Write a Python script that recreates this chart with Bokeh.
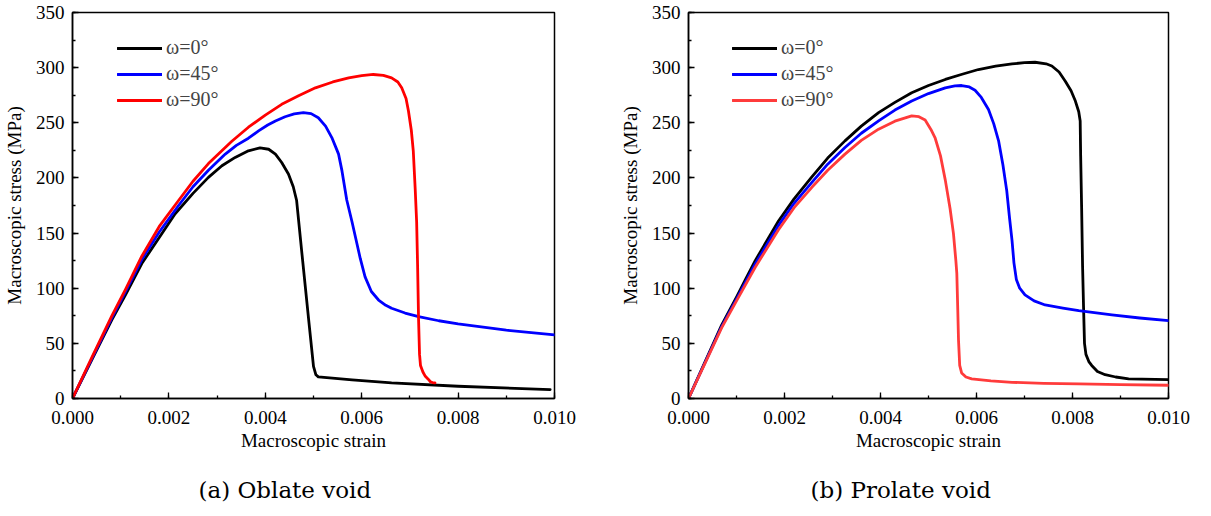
from bokeh.plotting import figure
from bokeh.models import Range1d, Legend, LegendItem, Title, NumeralTickFormatter, FixedTicker
from bokeh.layouts import row
from bokeh.embed import file_html
from bokeh.resources import INLINE

# ---------------- data (strain in units of 1e-3, stress in MPa) ----------------
# (a) Oblate void
a_w0_strain = [0, 0.4, 0.816, 1.1, 1.438, 1.8, 2.13, 2.5, 2.82, 3.1, 3.375, 3.65, 3.89, 4.07, 4.21, 4.34, 4.48, 4.58, 4.65, 4.76, 4.90, 5.0, 5.05, 5.10, 5.8, 6.62, 8.0, 9.91]
a_w0_stress = [0, 35, 71.3, 94, 122.4, 146, 167.5, 186, 200.5, 211, 218.6, 224.6, 227.2, 226, 221.6, 214, 203.6, 192, 179.5, 131.4, 71.3, 29.2, 21.5, 19.6, 16.8, 14.1, 11.1, 8.1]

a_w45_strain = [0, 0.4, 0.816, 1.1, 1.438, 1.8, 2.2, 2.5, 2.82, 3.17, 3.4, 3.65, 3.86, 4.05, 4.21, 4.41, 4.6, 4.79, 4.95, 5.10, 5.25, 5.38, 5.47, 5.52, 5.59, 5.69, 5.80, 5.87, 5.97, 6.07, 6.2, 6.35, 6.5, 6.62, 6.9, 7.18, 7.6, 8.0, 9.0, 10.0]
a_w45_stress = [0, 36, 73, 97, 126, 151, 175, 192, 207, 221.6, 229.5, 236, 242.6, 248, 251.7, 255.5, 258, 259.2, 258.3, 254.6, 247, 236.6, 227, 221.6, 206.6, 180, 160, 146.4, 127, 110.3, 97, 89.3, 84.5, 81.8, 77.5, 74.2, 70.5, 67.6, 62, 57.7]

a_w90_strain = [0, 0.4, 0.816, 1.1, 1.438, 1.8, 2.2, 2.5, 2.82, 3.3, 3.65, 4.0, 4.34, 4.69, 5.04, 5.4, 5.73, 6.0, 6.24, 6.45, 6.62, 6.75, 6.83, 6.92, 6.97, 7.03, 7.07, 7.11, 7.14, 7.16, 7.18, 7.20, 7.22, 7.27, 7.32, 7.38, 7.43, 7.47, 7.52]
a_w90_stress = [0, 37, 75, 99, 129, 156, 179.5, 197, 213, 233, 246, 257, 266.7, 274.5, 281.7, 287, 290.7, 292.8, 293.8, 293, 290.7, 287, 281.7, 272, 260.7, 243, 224.6, 190, 160, 120, 71.3, 40, 30, 24, 20.1, 17.5, 15, 14.5, 14.1]

# (b) Prolate void
b_w0_strain = [0, 0.69, 1.0, 1.18, 1.39, 1.875, 2.2, 2.57, 2.9, 3.26, 3.6, 3.96, 4.3, 4.65, 5.0, 5.35, 5.7, 6.04, 6.4, 6.74, 7.0, 7.22, 7.45, 7.57, 7.72, 7.85, 7.97, 8.06, 8.13, 8.16, 8.17, 8.19, 8.21, 8.23, 8.25, 8.28, 8.34, 8.40, 8.52, 8.68, 8.9, 9.17, 10.0]
b_w0_stress = [0, 66.5, 92, 107.3, 125, 161, 181, 201, 218, 233.6, 247, 259.2, 268.5, 277.2, 283.8, 289.3, 294, 298.3, 301.3, 303.4, 304.5, 304.9, 303.5, 301.5, 296, 287.7, 279, 269.7, 260, 251.7, 220, 173.5, 120, 83.3, 50, 40, 33.5, 30, 24.5, 21.6, 19.5, 17.8, 17.1]

b_w45_strain = [0, 0.69, 1.0, 1.39, 1.875, 2.2, 2.57, 2.9, 3.26, 3.6, 3.96, 4.3, 4.65, 5.0, 5.35, 5.55, 5.69, 5.85, 5.97, 6.1, 6.25, 6.36, 6.46, 6.55, 6.63, 6.69, 6.74, 6.78, 6.83, 6.9, 7.01, 7.2, 7.43, 7.8, 8.13, 8.82, 9.4, 10.0]
b_w45_stress = [0, 65.2, 90, 122, 157, 177, 196, 212.5, 227.6, 240.5, 251.7, 261.5, 269.7, 276.5, 281.7, 283.5, 283.8, 282.5, 279.5, 273, 262, 249, 233.6, 212, 188.5, 163, 143.4, 123, 108, 100, 94, 88.5, 84.8, 82, 79.6, 75.8, 73, 70.6]

b_w90_strain = [0, 0.69, 1.0, 1.39, 1.875, 2.2, 2.57, 2.9, 3.26, 3.6, 3.96, 4.3, 4.65, 4.80, 4.93, 5.05, 5.14, 5.25, 5.35, 5.45, 5.52, 5.57, 5.59, 5.61, 5.625, 5.65, 5.69, 5.78, 5.90, 6.3, 6.74, 7.4, 8.13, 9.0, 10.0]
b_w90_stress = [0, 64, 88.5, 119, 153, 173, 191.5, 207, 221.6, 234, 244.2, 251.5, 256.2, 255.5, 252.5, 244, 236, 220, 198, 172, 149.5, 125, 113.4, 80, 53.2, 30, 23.2, 19.5, 17.8, 16, 14.7, 13.8, 13.2, 12.6, 12]

series_labels = ["ω=0°", "ω=45°", "ω=90°"]
x_ticks = [0.000, 0.002, 0.004, 0.006, 0.008, 0.010]
y_ticks = [0, 50, 100, 150, 200, 250, 300, 350]

SERIF = "Liberation Serif"


def make_panel(data, colors, caption, left_border, frame_w, right_border, legend_x, cap_offset):
    p = figure(
        output_backend="svg", toolbar_location=None,
        frame_width=frame_w, frame_height=386,
        min_border_left=left_border, min_border_right=right_border,
        min_border_top=12, min_border_bottom=100,
        x_range=Range1d(0, 0.010), y_range=Range1d(0, 350),
        background_fill_color="white", border_fill_color="white",
    )
    p.xgrid.visible = False
    p.ygrid.visible = False
    p.outline_line_color = "black"
    p.outline_line_width = 1.5

    items = []
    for (sx, sy), col, lab in zip(data, colors, series_labels):
        r = p.line([v * 1e-3 for v in sx], sy, line_color=col, line_width=2.8,
                   line_join="round", line_cap="round")
        items.append(LegendItem(label=lab, renderers=[r]))

    for ax in (p.xaxis[0], p.yaxis[0]):
        ax.axis_line_width = 1.5
        ax.axis_line_color = "black"
        ax.major_tick_in = 6
        ax.major_tick_out = 0
        ax.minor_tick_in = 3
        ax.minor_tick_out = 0
        ax.major_tick_line_width = 1.3
        ax.minor_tick_line_width = 1.3
        ax.major_label_text_font = SERIF
        ax.major_label_text_font_size = "19px"
        ax.major_label_text_color = "black"
        ax.axis_label_text_font = SERIF
        ax.axis_label_text_font_size = "19px"
        ax.axis_label_text_font_style = "normal"
        ax.axis_label_text_color = "black"

    p.xaxis.ticker = FixedTicker(ticks=x_ticks, minor_ticks=[i * 0.001 for i in range(11)])
    p.yaxis.ticker = FixedTicker(ticks=y_ticks, minor_ticks=[i * 25 for i in range(15)])
    p.xaxis.formatter = NumeralTickFormatter(format="0.000")
    p.xaxis.axis_label = "Macroscopic strain"
    p.yaxis.axis_label = "Macroscopic stress (MPa)"
    p.xaxis.major_label_standoff = 12
    p.xaxis.axis_label_standoff = 3
    p.yaxis.major_label_standoff = 8
    p.yaxis.axis_label_standoff = 8

    leg = Legend(items=items, location=(legend_x, 287), border_line_color=None,
                 background_fill_alpha=0, glyph_width=45, glyph_height=20,
                 label_height=20, spacing=3, padding=10, label_standoff=4,
                 label_text_font=SERIF, label_text_font_size="20px")
    p.add_layout(leg)

    t = Title(text=caption, align="left", offset=cap_offset, standoff=43,
              text_font="DejaVu Serif", text_font_size="23px",
              text_font_style="normal", text_color="black")
    p.add_layout(t, "below")
    return p


pa = make_panel(
    [(a_w0_strain, a_w0_stress), (a_w45_strain, a_w45_stress), (a_w90_strain, a_w90_stress)],
    ["#000000", "#0000FF", "#FF0000"], "(a) Oblate void", 66, 482, 58, 45, 126)
pb = make_panel(
    [(b_w0_strain, b_w0_stress), (b_w45_strain, b_w45_stress), (b_w90_strain, b_w90_stress)],
    ["#000000", "#0000FF", "#FF3B3B"], "(b) Prolate void", 76, 480, 33, 44, 122)

layout = row(pa, pb)
open("out.html", "w").write(file_html(layout, INLINE))
